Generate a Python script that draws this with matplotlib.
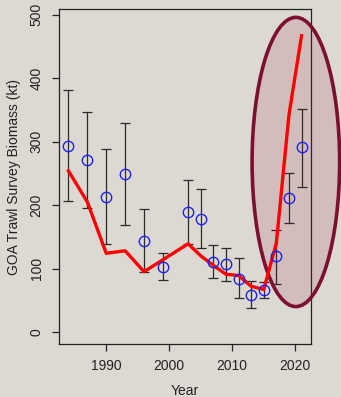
import numpy as np
import matplotlib
matplotlib.use('Agg')
import matplotlib.pyplot as plt
from matplotlib.patches import Ellipse

plt.rcParams['font.family'] = ['Liberation Sans', 'DejaVu Sans']

# Survey biomass estimates (kt) with error bar limits
survey_year = [1984, 1987, 1990, 1993, 1996, 1999, 2003, 2005, 2007, 2009,
               2011, 2013, 2015, 2017, 2019, 2021]
survey_biomass = [293, 271, 213, 249, 144, 103, 189, 178, 110, 107,
                  83, 59, 66, 119, 211, 291]
survey_upper = [381, 347, 289, 330, 194, 125, 240, 225, 137, 133,
                116, 81, 79, 161, 250, 352]
survey_lower = [207, 195, 138, 169, 95, 82, 138, 132, 85, 81,
                53, 38, 53, 76, 171, 229]

# Model fit to the survey index
model_year = [1984, 1987, 1990, 1993, 1996, 2003, 2005, 2007, 2009, 2011,
              2013, 2015, 2017, 2019, 2021]
model_biomass = [254, 205, 124, 128, 95, 139, 120, 105, 91, 89,
                 72, 67, 140, 342, 467]

bg = '#dcd9d3'
fig = plt.figure(figsize=(3.41, 3.97), dpi=100, facecolor=bg)
ax = fig.add_axes([0.173, 0.1335, 0.739, 0.8435], facecolor=bg)

yb = np.array(survey_biomass)
yerr = [yb - np.array(survey_lower), np.array(survey_upper) - yb]
ax.errorbar(survey_year, survey_biomass, yerr=yerr, fmt='none',
            ecolor='#2a2a2a', elinewidth=0.9, capsize=3.5, capthick=0.9, zorder=2)

# Highlight the recent years
ell = Ellipse((2020.1, 268), 13.9, 456, facecolor=(0.55, 0.08, 0.2, 0.14),
              edgecolor='#7d1030', linewidth=2.6, clip_on=False, zorder=3)
ax.add_patch(ell)

ax.plot(model_year, model_biomass, color='#ff0000', lw=2.4, zorder=4,
        solid_joinstyle='round')
ax.plot(survey_year, survey_biomass, 'o', mfc='none', mec='#2020ee',
        ms=7.5, mew=1.0, zorder=5)

ax.set_xlim(1982.5, 2022.5)
ax.set_ylim(-19, 509)
ax.set_xticks([1990, 2000, 2010, 2020])
ax.set_yticks([0, 100, 200, 300, 400, 500])
ax.set_yticklabels(['0', '100', '200', '300', '400', '500'], rotation=90, va='center')
ax.tick_params(direction='out', length=5, width=0.9, colors='#222222',
               labelsize=10, pad=6)
for s in ax.spines.values():
    s.set_linewidth(0.9)
    s.set_color('#222222')

ax.set_xlabel('Year', fontsize=10, color='#222222', labelpad=8)
ax.set_ylabel('GOA Trawl Survey Biomass (kt)', fontsize=10, color='#222222', labelpad=6)

fig.savefig('out.png', dpi=100, facecolor=bg)
